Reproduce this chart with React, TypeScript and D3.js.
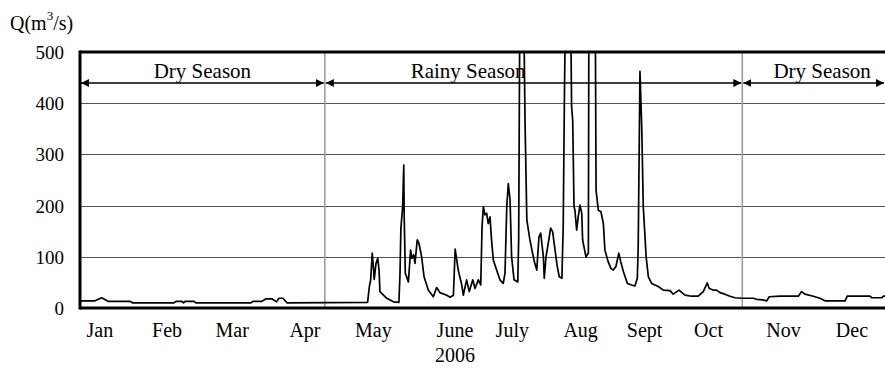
import React from "react";
import * as d3 from "d3";

// ---- data (day of year 2006, discharge m3/s) ----
const flowDay: number[] = [
  0, 6.8, 9.8, 12.7, 22.7, 24, 42.6, 43.5, 46.2, 46.9, 47.6, 51.7, 52.6, 77.5, 78.4, 82.5, 84.3, 87, 89.1, 90.2, 92, 93.9, 130.4,
  131.2, 131.8, 132.5, 133.0, 133.4, 134.2, 135.0, 135.6, 136.0, 139.1, 142.1, 144.6, 145.1, 145.5, 146.3, 146.8, 147.0, 147.5,
  148.9, 149.9, 150.5, 151.3, 151.9, 152.9, 153.7, 154.9, 156.0, 157.9, 160.2, 161.7, 163.2, 166.3, 167.8, 169.3, 170.1, 171.5,
  173.1, 173.8, 175.3, 176.5, 178.1, 179.1, 180.6, 181.7, 182.3, 182.9, 183.6, 184.4, 185.1, 185.9, 186.6, 187.4, 188.9, 190.4,
  191.9, 192.7, 193.5, 194.2, 195.0, 195.7, 196.8, 198.5, 198.9, 199.5, 201.0, 201.8, 202.6, 204.0, 205.8, 207.1, 208.1, 208.9,
  210.1, 210.5, 211.3, 212.3, 213.4, 214.3, 215.4, 216.4, 217.3, 218.5, 219.1, 219.6, 220.4, 222.2, 222.9, 223.4, 224.0, 224.4,
  225.2, 225.9, 226.7, 227.5, 227.9, 228.5, 229.4, 230.5, 230.8, 233.5, 234.0, 235.0, 236.2, 237.3, 238.0, 239.5, 240.8, 241.8,
  243.0, 244.3, 245.2, 246.4, 248.2, 250.1, 251.6, 252.7, 253.1, 253.9, 254.7, 255.4, 256.7, 257.7, 259.2, 262.2, 264.5, 267.5,
  269.0, 271.6, 274.3, 277.4, 280.3, 282.6, 284.4, 285.3, 287.1, 288.6, 290.2, 292.4, 294.7, 297.0, 300.0, 305.3, 306.8, 309.5,
  311.4, 312.5, 317.4, 325.7, 327.2, 328.7, 332.5, 335.5, 337.8, 346.9, 347.9, 358.2, 359.0, 363.5, 364.3, 365,
];
const flowQ: number[] = [
  14, 14, 20, 13, 13, 10, 10, 13, 13, 10, 13, 13, 10, 10, 13, 13, 18, 18, 12, 19, 19, 10, 11,
  42, 55, 107, 81, 56, 87, 97, 74, 32, 19, 12, 11, 68, 156, 198, 279, 178, 68,
  51, 113, 97, 104, 87, 133, 126, 100, 61, 35, 22, 40, 30, 25, 21, 25, 115, 74,
  45, 25, 55, 32, 55, 38, 55, 45, 159, 198, 182, 185, 165, 178, 133, 94, 74, 55,
  48, 68, 198, 243, 211, 100, 55, 51, 133, 650, 650, 361, 172, 133, 94, 74, 139, 146,
  100, 58, 100, 126, 156, 149, 113, 81, 61, 58, 159, 393, 700, 700, 393, 367, 198, 191,
  152, 178, 201, 185, 133, 120, 100, 107, 700, 700, 230, 191, 188, 165, 113, 90, 77, 74,
  81, 107, 90, 71, 48, 45, 43, 58, 120, 462, 354, 198, 100, 61, 48, 42, 35, 34,
  27, 35, 25, 23, 23, 32, 49, 38, 35, 35, 30, 27, 23, 20, 19, 19, 17, 16,
  14, 22, 23, 23, 32, 27, 23, 19, 14, 14, 23, 23, 20, 20, 23, 23,
];

const yTicks: number[] = [0, 100, 200, 300, 400, 500];
const monthLabels: string[] = ["Jan", "Feb", "Mar", "Apr", "May", "June", "July", "Aug", "Sept", "Oct", "Nov", "Dec"];
const monthLabelDay: number[] = [9, 39.5, 69, 102, 133, 170, 196, 227, 256, 285, 319, 350];
const yearLabel = "2006";
const yearLabelDay = 170;

const seasonNames: string[] = ["Dry Season", "Rainy Season", "Dry Season"];
const seasonStart: number[] = [0, 111, 300.3];
const seasonEnd: number[] = [111, 300.3, 365];
const seasonLabelDay: number[] = [55.5, 176, 336.5];
const seasonBoundaries: number[] = [111, 300.3];

export default function App() {
  const W = 885, H = 369;
  const left = 80, right = 885, top = 52, bottom = 308;
  const x = d3.scaleLinear().domain([0, 365]).range([left, right]);
  const y = d3.scaleLinear().domain([0, 500]).range([bottom, top]);
  const pts: [number, number][] = flowDay.map((d, i) => [d, flowQ[i]]);
  const line = d3.line<[number, number]>().x(d => x(d[0])).y(d => y(d[1]));
  const tf: React.CSSProperties = { fontFamily: "\"Liberation Serif\", \"DejaVu Serif\", serif" };
  const arrowY = 83;

  return (
    <svg width={W} height={H} style={{ position: "absolute", left: 0, top: 0, background: "#fff" }}>
      <defs>
        <clipPath id="plot">
          <rect x={left} y={top} width={right - left} height={bottom - top} />
        </clipPath>
        <marker id="ah" viewBox="0 0 10 10" refX="10" refY="5" markerWidth="8" markerHeight="8" orient="auto-start-reverse" markerUnits="userSpaceOnUse">
          <path d="M0,0 L10,5 L0,10 z" fill="#000" />
        </marker>
      </defs>
      <rect x={0} y={0} width={W} height={H} fill="#fff" />
      {/* gridlines */}
      {yTicks.filter(t => t > 0 && t < 500).map(t => (
        <line key={t} x1={left} x2={right} y1={Math.round(y(t)) + 0.5} y2={Math.round(y(t)) + 0.5} stroke="#555" strokeWidth={1} />
      ))}
      {/* season boundaries */}
      {seasonBoundaries.map((d, i) => (
        <line key={i} x1={x(d)} x2={x(d)} y1={top} y2={bottom} stroke="#999" strokeWidth={1.5} />
      ))}
      {/* data */}
      <path d={line(pts) || ""} fill="none" stroke="#000" strokeWidth={1.7} strokeLinejoin="round" clipPath="url(#plot)" />
      {/* season arrows */}
      {seasonNames.map((s, i) => (
        <g key={i}>
          <line x1={x(seasonStart[i]) + 1} x2={x(seasonEnd[i]) - 1} y1={arrowY} y2={arrowY} stroke="#000" strokeWidth={1.5}
            markerStart="url(#ah)" markerEnd="url(#ah)" />
          <text x={x(seasonLabelDay[i])} y={78} textAnchor="middle" fontSize={21} fill="#000" style={tf}>{s}</text>
        </g>
      ))}
      {/* frame */}
      <line x1={left} x2={right} y1={top} y2={top} stroke="#000" strokeWidth={3} />
      <line x1={left} x2={right} y1={bottom} y2={bottom} stroke="#000" strokeWidth={3} />
      <line x1={left} x2={left} y1={top - 1.5} y2={bottom + 1.5} stroke="#000" strokeWidth={3} />
      {/* y tick labels */}
      {yTicks.map(t => (
        <text key={t} x={64} y={y(t) + 7} textAnchor="end" fontSize={19} fill="#000" style={tf}>{t}</text>
      ))}
      <text x={10} y={30} fontSize={20} fill="#000" style={tf}>
        Q(m<tspan dy={-10} fontSize={13}>3</tspan><tspan dy={10}>/s)</tspan>
      </text>
      {/* month labels */}
      {monthLabels.map((m, i) => (
        <text key={m} x={x(monthLabelDay[i])} y={337} textAnchor="middle" fontSize={20} fill="#000" style={tf}>{m}</text>
      ))}
      <text x={x(yearLabelDay)} y={362} textAnchor="middle" fontSize={20} fill="#000" style={tf}>{yearLabel}</text>
    </svg>
  );
}
